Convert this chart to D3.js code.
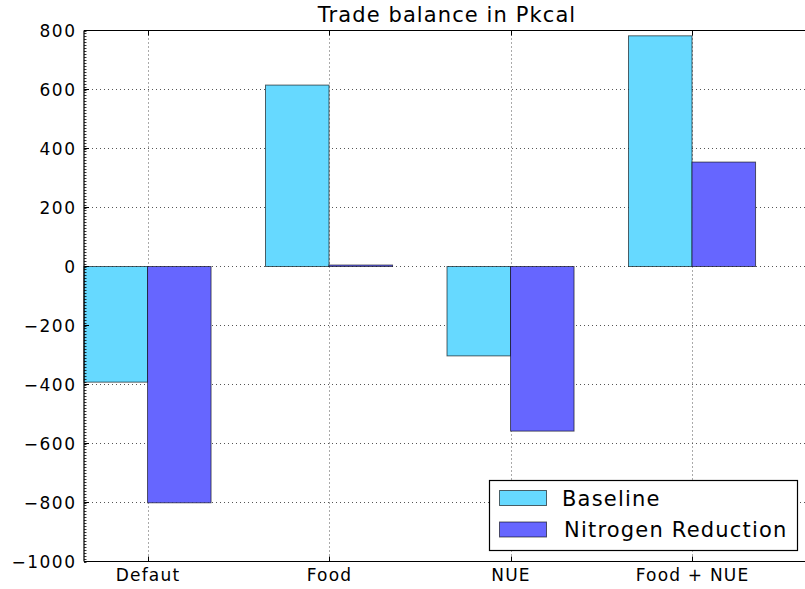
<!DOCTYPE html>
<html><head><meta charset="utf-8">
<script src="https://cdn.jsdelivr.net/npm/d3@7"></script>
<style>body{margin:0;background:#fff}svg text{font-family:"DejaVu Sans";fill:#000}</style>
</head><body><svg id="c" width="805" height="589"></svg>
<script>
const categories = ["Defaut", "Food", "NUE", "Food + NUE"];
const seriesNames = ["Baseline", "Nitrogen Reduction"];
const baseline = [-392, 615, -303, 782];
const nitrogenReduction = [-801, 5, -558, 354];
const yTicks = [800, 600, 400, 200, 0, -200, -400, -600, -800, -1000];
const title = "Trade balance in Pkcal";

const svg = d3.select("#c");
const L = 84, T = 30.5, B = 561.5;
const step = 181.5;
const xMax = 3.76;
const R = L + (xMax + 0.35) * step;
const x = d3.scaleLinear().domain([-0.35, xMax]).range([L, R]);
const y = d3.scaleLinear().domain([-1000, 800]).range([B, T]);
const bw = 0.35;
const colors = ["#66d9ff", "#6666ff"];
const data = [baseline, nitrogenReduction];

// grid
const g = svg.append("g");
yTicks.forEach(t => {
  if (t === 800 || t === -1000) return;
  g.append("line").attr("x1", L).attr("x2", R).attr("y1", y(t)).attr("y2", y(t))
    .attr("stroke", "#555").attr("stroke-width", 1).attr("stroke-dasharray", "1,3");
});
categories.forEach((c, i) => {
  g.append("line").attr("x1", Math.round(x(i)) + 0.5).attr("x2", Math.round(x(i)) + 0.5).attr("y1", T).attr("y2", B)
    .attr("stroke", "#555").attr("stroke-width", 1).attr("stroke-dasharray", "1,3");
});

// bars
data.forEach((vals, s) => {
  svg.append("g").selectAll("rect").data(vals).join("rect")
    .attr("x", (d, i) => x(i - bw + s * bw))
    .attr("width", x(bw) - x(0))
    .attr("y", d => y(Math.max(0, d)))
    .attr("height", d => Math.abs(y(d) - y(0)))
    .attr("fill", colors[s])
    .attr("stroke", "rgba(0,0,0,0.6)").attr("stroke-width", 1);
});

// spines
svg.append("line").attr("x1", L).attr("x2", R).attr("y1", T).attr("y2", T).attr("stroke", "#000").attr("stroke-width", 1.2);
svg.append("line").attr("x1", L).attr("x2", R).attr("y1", B).attr("y2", B).attr("stroke", "#000").attr("stroke-width", 1.2);
svg.append("line").attr("x1", L).attr("x2", L).attr("y1", T).attr("y2", B).attr("stroke", "#000").attr("stroke-width", 1.2);

// minor y ticks
d3.range(-1000, 801, 10).forEach(v => {
  svg.append("line").attr("x1", L).attr("x2", L + 2.5).attr("y1", Math.round(y(v)) + 0.5).attr("y2", Math.round(y(v)) + 0.5)
    .attr("stroke", "#000").attr("stroke-width", 0.8);
});
// major y ticks + labels
const yAxis = d3.axisLeft(y).tickValues(yTicks).tickSize(0).tickPadding(7.5)
  .tickFormat(d => d < 0 ? "\u2212" + Math.abs(d) : d);
const ya = svg.append("g").attr("transform", `translate(${L},0)`).call(yAxis);
ya.select(".domain").remove();
ya.selectAll("text").attr("font-size", 17).attr("letter-spacing", 1.5).attr("font-family", "DejaVu Sans").attr("fill", "#000").attr("dy", "0.36em");
yTicks.forEach(t => {
  svg.append("line").attr("x1", L).attr("x2", L + 5).attr("y1", y(t)).attr("y2", y(t)).attr("stroke", "#000");
});

// x ticks + labels
const xAxis = d3.axisBottom(x).tickValues(d3.range(categories.length)).tickSize(0).tickPadding(7)
  .tickFormat(i => categories[i]);
const xa = svg.append("g").attr("transform", `translate(0,${B})`).call(xAxis);
xa.select(".domain").remove();
xa.selectAll("text").attr("font-size", 17).attr("letter-spacing", 1.2).attr("font-family", "DejaVu Sans").attr("fill", "#000");
categories.forEach((c, i) => {
  const xi = Math.round(x(i)) + 0.5;
  svg.append("line").attr("x1", xi).attr("x2", xi).attr("y1", B).attr("y2", B - 5).attr("stroke", "#000");
  svg.append("line").attr("x1", xi).attr("x2", xi).attr("y1", T).attr("y2", T + 5).attr("stroke", "#000");
});

// title
svg.append("text").attr("x", 447).attr("y", 22).attr("text-anchor", "middle")
  .attr("font-size", 21).attr("letter-spacing", 1.1).text(title);

// legend
const lg = svg.append("g");
lg.append("rect").attr("x", 489.5).attr("y", 480.5).attr("width", 308).attr("height", 70)
  .attr("fill", "#fff").attr("stroke", "#000").attr("stroke-width", 1.2);
seriesNames.forEach((n, k) => {
  const yy = 490.5 + k * 31.5;
  lg.append("rect").attr("x", 499.5).attr("y", yy).attr("width", 47).attr("height", 15)
    .attr("fill", colors[k]).attr("stroke", "rgba(0,0,0,0.6)");
  lg.append("text").attr("x", 562 + k * 2).attr("y", yy + 15).attr("font-size", 21).attr("letter-spacing", 1.2).text(n);
});
</script></body></html>
